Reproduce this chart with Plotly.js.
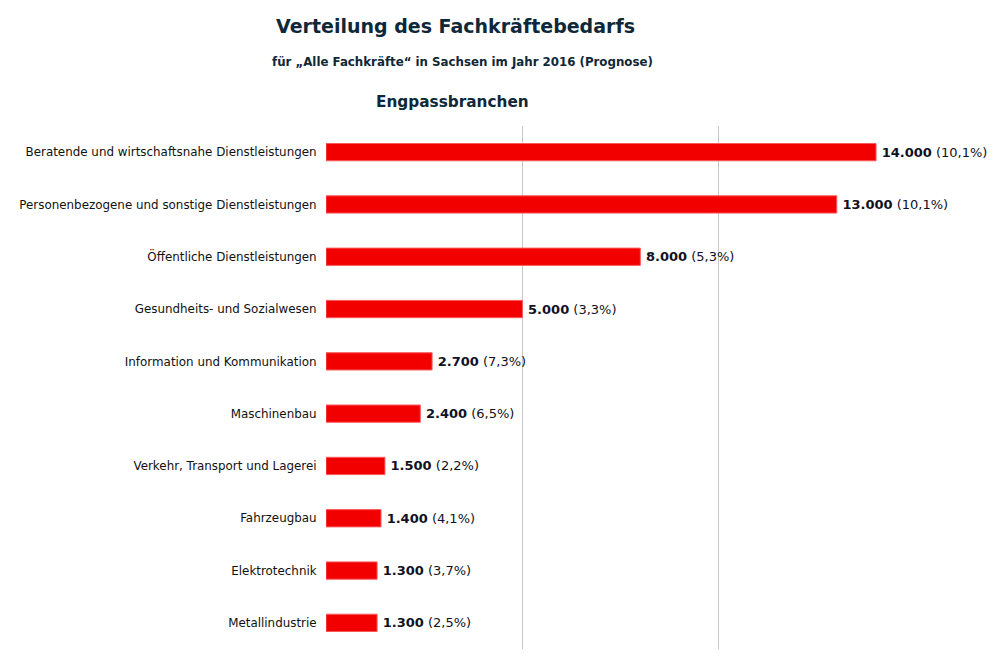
<!DOCTYPE html>
<html>
<head>
<meta charset="utf-8">
<script src="https://cdn.plot.ly/plotly-3.0.1.min.js"></script>
<style>html,body{margin:0;padding:0;background:#fff;}#chart{width:1000px;height:666px;}</style>
</head>
<body>
<div id="chart"></div>
<script>
const categories = [
  "Beratende und wirtschaftsnahe Dienstleistungen",
  "Personenbezogene und sonstige Dienstleistungen",
  "Öffentliche Dienstleistungen",
  "Gesundheits- und Sozialwesen",
  "Information und Kommunikation",
  "Maschinenbau",
  "Verkehr, Transport und Lagerei",
  "Fahrzeugbau",
  "Elektrotechnik",
  "Metallindustrie"
];
const values = [14000, 13000, 8000, 5000, 2700, 2400, 1500, 1400, 1300, 1300];
const shares = ["10,1%", "10,1%", "5,3%", "3,3%", "7,3%", "6,5%", "2,2%", "4,1%", "3,7%", "2,5%"];
const gridTicks = [5000, 10000];

function fmt(v){ return String(v).replace(/\B(?=(\d{3})+(?!\d))/g, "."); }
const labels = values.map((v,i) => "\u2009<b>" + fmt(v) + "</b> (" + shares[i] + ")");

const trace = {
  type: "bar",
  orientation: "h",
  x: values,
  y: categories,
  text: labels,
  textposition: "outside",
  cliponaxis: false,
  textfont: {family: "DejaVu Sans, Verdana, sans-serif", size: 13, color: "#111122"},
  marker: {color: "rgb(242,0,0)", line: {color: "rgb(250,90,90)", width: 1}},
  width: 0.33,
  hoverinfo: "none"
};

const layout = {
  width: 1000, height: 666,
  margin: {l: 326, r: 10, t: 126, b: 17},
  paper_bgcolor: "#fff", plot_bgcolor: "#fff",
  showlegend: false,
  xaxis: {
    range: [0, 16900],
    tickvals: gridTicks,
    showticklabels: false,
    showgrid: true, gridcolor: "#c8c8c8", gridwidth: 1,
    zeroline: false, showline: false, fixedrange: true
  },
  yaxis: {
    autorange: "reversed",
    ticks: "outside", ticklen: 6, tickcolor: "rgba(0,0,0,0)",
    tickfont: {family: "DejaVu Sans, Verdana, sans-serif", size: 11.9, color: "#111111"},
    showgrid: false, zeroline: false, showline: false, fixedrange: true
  },
  annotations: [
    {text: "<b>Verteilung des Fachkräftebedarfs</b>", xref: "paper", yref: "paper",
     x: (455-326)/664, y: 1 + (126-26)/523, xanchor: "center", yanchor: "middle", showarrow: false,
     font: {family: "DejaVu Sans, Verdana, sans-serif", size: 19, color: "#0f2838"}},
    {text: "<b>für „Alle Fachkräfte“ in Sachsen im Jahr 2016 (Prognose)</b>", xref: "paper", yref: "paper",
     x: (462-326)/664, y: 1 + (126-62)/523, xanchor: "center", yanchor: "middle", showarrow: false,
     font: {family: "DejaVu Sans, Verdana, sans-serif", size: 11.8, color: "#0f2838"}},
    {text: "<b>Engpassbranchen</b>", xref: "paper", yref: "paper",
     x: (452-326)/664, y: 1 + (126-102)/523, xanchor: "center", yanchor: "middle", showarrow: false,
     font: {family: "DejaVu Sans, Verdana, sans-serif", size: 15.3, color: "#0f2838"}}
  ]
};

Plotly.newPlot("chart", [trace], layout, {displayModeBar: false, staticPlot: true});
</script>
</body>
</html>
